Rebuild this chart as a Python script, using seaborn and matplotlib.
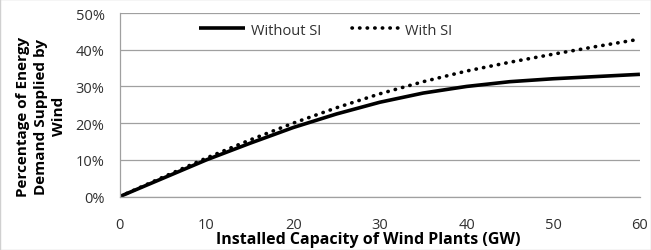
import pandas as pd
import numpy as np
import matplotlib
matplotlib.use('Agg')
import matplotlib.pyplot as plt
import matplotlib.ticker as mticker
import seaborn as sns

# == datos

capacidad_gw = [0, 5, 10, 15, 20, 25, 30, 35, 40, 45, 50, 55, 60]
sin_si = [0, 5.0, 10.0, 14.5, 18.8, 22.5, 25.7, 28.2, 30.0, 31.3, 32.1, 32.7, 33.3]
con_si = [0, 5.3, 10.5, 15.4, 20.0, 24.2, 28.0, 31.3, 34.2, 36.6, 38.8, 40.9, 42.9]
series = ['Without SI', 'With SI']

df = pd.DataFrame({
    'GW': capacidad_gw * 2,
    'pct': [v / 100 for v in sin_si + con_si],
    'serie': [series[0]] * len(capacidad_gw) + [series[1]] * len(capacidad_gw),
})

sns.set_style('white')
plt.rcParams['font.family'] = ['Open Sans', 'DejaVu Sans']

fig = plt.figure(figsize=(6.51, 2.51), dpi=100)
ax = fig.add_axes([0.184, 0.213, 0.799, 0.731])

# == líneas
d1 = df[df['serie'] == series[0]]
d2 = df[df['serie'] == series[1]]
sns.lineplot(data=d1, x='GW', y='pct', ax=ax, color='black', linewidth=2.6,
             label=series[0], solid_capstyle='butt')
sns.lineplot(data=d2, x='GW', y='pct', ax=ax, color='black', linewidth=2.6,
             linestyle=(0, (0.1, 2.0)), dash_capstyle='round', label=series[1])

# == ejes
ax.set_xlim(0, 60)
ax.set_ylim(0, 0.5)
ax.set_xticks(range(0, 61, 10))
ax.set_yticks(np.arange(0, 0.51, 0.1))
ax.yaxis.set_major_formatter(mticker.PercentFormatter(1.0, decimals=0))
ax.grid(axis='y', color='#a0a0a0', linewidth=0.9)
ax.set_axisbelow(True)

for s in ['top', 'right']:
    ax.spines[s].set_visible(False)
for s in ['left', 'bottom']:
    ax.spines[s].set_color('#a0a0a0')
    ax.spines[s].set_linewidth(0.9)

ax.tick_params(axis='both', colors='#a0a0a0', length=4, width=0.9, labelsize=10.5,
               labelcolor='#303030')
ax.tick_params(axis='x', pad=11)
ax.tick_params(axis='y', pad=7)

ax.set_xlabel('Installed Capacity of Wind Plants (GW)', fontsize=11.5, fontweight='bold',
              color='black')
ax.xaxis.set_label_coords(0.478, -0.19)
ax.set_ylabel('Percentage of Energy\nDemand Supplied by\nWind', fontsize=11,
              fontweight='bold', color='black', linespacing=1.35)
ax.yaxis.set_label_coords(-0.104, 0.44)

leg = ax.legend(loc='upper center', bbox_to_anchor=(0.395, 1.02), ncol=2, frameon=False,
                fontsize=10.5, handlelength=3.2, handletextpad=0.4, columnspacing=2.1)
for t in leg.get_texts():
    t.set_color('#303030')

fig.patches.append(plt.Rectangle((0, 0), 1, 1, transform=fig.transFigure, fill=False,
                                 edgecolor='#d0d0d0', linewidth=1))

plt.savefig('out.png', dpi=100)
plt.close('all')
